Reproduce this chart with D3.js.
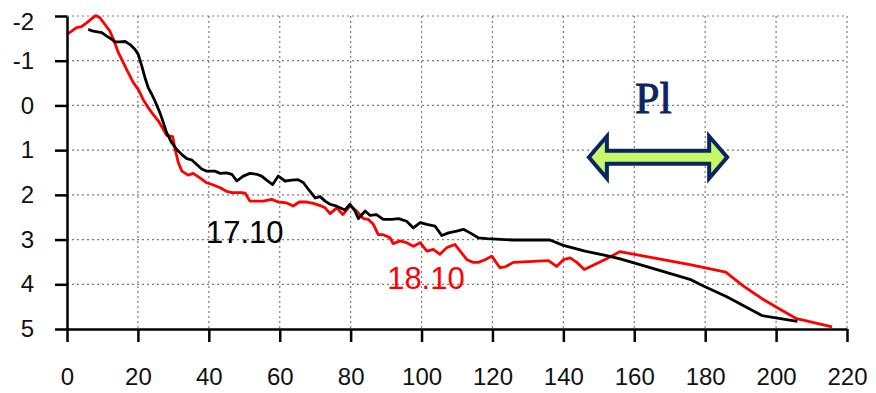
<!DOCTYPE html>
<html><head><meta charset="utf-8">
<script src="https://cdn.jsdelivr.net/npm/d3@7"></script>
<style>
html,body{margin:0;padding:0;background:#fff;}
svg{display:block;}
</style></head>
<body>
<svg id="chart" width="876" height="393"></svg>
<script>
// ---- data ----
const xTicks = [0,20,40,60,80,100,120,140,160,180,200,220];
const yTicks = [-2,-1,0,1,2,3,4,5];

const series1710_x = [6,7.4,9.8,11.2,12.6,13.5,14.9,16.4,17.8,19.2,20.1,21.1,22,22.9,23.9,24.8,26.2,27.2,28.1,29.5,30.9,32.4,33.8,35.2,36.6,38,39.4,41.7,43.2,45,46.5,47.9,49.7,51.6,53.5,54.9,56.3,58,59.6,61.5,63.4,65.2,66.7,68.1,70,71.4,72.8,74.2,75.6,77,78.4,79.8,81.2,82.2,84.1,85.5,87.3,89.2,91.6,93.5,95.8,97.7,99.6,101.5,103.8,105.7,107.6,109.9,111.8,113.7,116,118.4,125.9,136.2,140,146.1,152.2,156,161.6,175.7,179.5,186.1,196,206];
const series1710_y = [-1.70,-1.66,-1.63,-1.55,-1.48,-1.42,-1.42,-1.43,-1.36,-1.25,-1.14,-0.88,-0.62,-0.40,-0.25,-0.10,0.16,0.39,0.61,0.83,0.98,1.10,1.19,1.22,1.32,1.42,1.47,1.47,1.52,1.51,1.54,1.69,1.58,1.52,1.54,1.58,1.67,1.77,1.58,1.69,1.67,1.66,1.73,1.88,2.07,2.04,2.14,2.21,2.24,2.29,2.34,2.21,2.36,2.53,2.36,2.46,2.44,2.55,2.55,2.53,2.59,2.74,2.62,2.66,2.70,2.91,2.85,2.81,2.77,2.85,2.96,2.98,3.01,3.01,3.13,3.26,3.36,3.43,3.56,3.89,4.04,4.28,4.70,4.83];

const series1810_x = [0,1.3,2.7,4.1,5.6,7,8.1,9.3,10.7,12.1,13.1,14.5,15.9,17.3,18.7,20.1,21.5,22.9,24.3,25.8,27.2,28.1,29.8,30.5,31.4,32.4,34.2,35.6,37.5,39.4,41.3,43.2,45,46.5,49.3,50.2,51.6,54,55.4,57.7,59.6,62,63.8,65.5,67.6,69.5,71.4,72.8,74.2,76.1,77.8,79.9,81.5,83.6,85,86.4,87.8,89.2,91.1,92,93.9,95.8,97.7,99.6,101.5,103.3,105.2,107.1,109.4,110.9,112.8,114.6,116,117.9,119.8,122.1,123.6,125.9,135.8,138.1,140,141.9,143.8,145.9,152.2,155.9,175.7,185.8,190.8,196.4,201.1,205.8,215.8];
const series1810_y = [-1.59,-1.66,-1.74,-1.76,-1.85,-1.94,-2.01,-1.96,-1.81,-1.66,-1.48,-1.18,-0.95,-0.73,-0.51,-0.36,-0.13,0.05,0.20,0.35,0.54,0.67,0.70,0.98,1.28,1.47,1.56,1.52,1.62,1.73,1.78,1.84,1.92,1.95,1.95,1.96,2.14,2.14,2.14,2.10,2.16,2.18,2.25,2.16,2.16,2.19,2.24,2.29,2.42,2.29,2.44,2.24,2.35,2.53,2.55,2.66,2.89,2.89,2.96,3.09,3.03,3.07,3.15,3.07,3.26,3.22,3.33,3.18,3.11,3.26,3.45,3.51,3.51,3.45,3.37,3.63,3.61,3.51,3.47,3.60,3.45,3.41,3.51,3.67,3.43,3.27,3.56,3.73,4.04,4.34,4.56,4.77,4.95];

const seriesLabels = ["17.10","18.10"];
const seriesColors = ["#000000","#ff0000"];
const annotationText = "Pl";
const arrowRange = [147.2, 186.2]; // x-data span of the double arrow
const arrowLevel = 1.16;           // y-data level of the arrow

// ---- layout ----
const svg = d3.select("#chart");
const mLeft = 67, mRight = 847, mTop = 16, mBottom = 329;
const x = d3.scaleLinear().domain([0,220]).range([mLeft,mRight]);
const y = d3.scaleLinear().domain([-2,5]).range([mTop,mBottom]);

// grid
const grid = svg.append("g").attr("stroke","#7a7a7a").attr("stroke-width",1.2).attr("stroke-dasharray","2,3");
grid.selectAll("line.v").data(xTicks.filter(d=>d>0)).join("line")
  .attr("x1",d=>x(d)).attr("x2",d=>x(d)).attr("y1",mTop).attr("y2",mBottom);
grid.selectAll("line.h").data(yTicks.filter(d=>d<5)).join("line")
  .attr("x1",mLeft).attr("x2",mRight).attr("y1",d=>y(d)).attr("y2",d=>y(d));

// lines
const line = d3.line().x(d=>x(d[0])).y(d=>y(d[1]));
const d1710 = series1710_x.map((v,i)=>[v,series1710_y[i]]);
const d1810 = series1810_x.map((v,i)=>[v,series1810_y[i]]);
svg.append("path").datum(d1810).attr("d",line).attr("fill","none")
  .attr("stroke",seriesColors[1]).attr("stroke-width",2.8).attr("stroke-linejoin","round");
svg.append("path").datum(d1710).attr("d",line).attr("fill","none")
  .attr("stroke",seriesColors[0]).attr("stroke-width",2.8).attr("stroke-linejoin","round");

// axes
const font = "'Liberation Sans', Arial, sans-serif";
const fmt = d => String(d);
const yAxis = svg.append("g").attr("transform",`translate(${mLeft},0)`)
  .call(d3.axisLeft(y).tickValues(yTicks).tickFormat(fmt).tickSize(12).tickSizeOuter(0).tickPadding(21));
const xAxis = svg.append("g").attr("transform",`translate(0,${mBottom})`)
  .call(d3.axisBottom(x).tickValues(xTicks).tickFormat(fmt).tickSize(13).tickSizeOuter(0).tickPadding(26));
[yAxis,xAxis].forEach(a=>{
  a.selectAll("path,line").attr("stroke","#000").attr("stroke-width",2.5);
  a.selectAll("text").attr("font-family",font).attr("font-size",24).attr("fill","#111");
});
yAxis.selectAll(".tick").filter(d=>d===-2).select("text").attr("dy","0.55em");
xAxis.selectAll(".tick text").attr("dy","0.71em");

// series labels
svg.append("text").attr("x",x(39.2)).attr("y",y(3.07)).text(seriesLabels[0])
  .attr("font-family",font).attr("font-size",31).attr("fill",seriesColors[0]);
svg.append("text").attr("x",x(90.3)).attr("y",y(4.1)).text(seriesLabels[1])
  .attr("font-family",font).attr("font-size",31).attr("fill",seriesColors[1]);

// annotation arrow
const ax0 = x(arrowRange[0]), ax1 = x(arrowRange[1]), ay = y(arrowLevel);
const headW = 18, headH = 21, shaftH = 6.5;
const arrowPts = [
  [ax0,ay],[ax0+headW,ay-headH],[ax0+headW,ay-shaftH],[ax1-headW,ay-shaftH],[ax1-headW,ay-headH],
  [ax1,ay],[ax1-headW,ay+headH],[ax1-headW,ay+shaftH],[ax0+headW,ay+shaftH],[ax0+headW,ay+headH]
];
svg.append("path").attr("d",d3.line()(arrowPts)+"Z")
  .attr("fill","#c6f867").attr("stroke","#0b2463").attr("stroke-width",4).attr("stroke-linejoin","miter");
svg.append("text").attr("x",x(165.4)).attr("y",y(0.16)).attr("text-anchor","middle")
  .text(annotationText).attr("font-family","'Liberation Serif','DejaVu Serif',serif")
  .attr("font-size",44).attr("fill","#0b2463")
  .attr("stroke","#0b2463").attr("stroke-width",0.9);
</script>
</body></html>
